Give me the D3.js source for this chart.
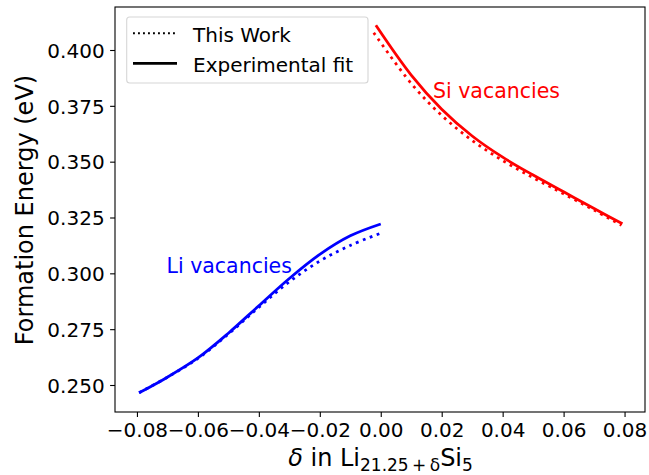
<!DOCTYPE html>
<html>
<head>
<meta charset="utf-8">
<script src="https://cdn.jsdelivr.net/npm/d3@7"></script>
<style>
  html, body { margin: 0; padding: 0; background: #fff; }
  svg { display: block; font-family: "DejaVu Sans", sans-serif; }
</style>
</head>
<body>
<svg id="chart" width="649" height="475"></svg>
<script>
// Li vacancies (delta < 0): formation energy in eV
const liDelta = [-0.0793, -0.07, -0.06, -0.05, -0.04, -0.03, -0.02, -0.01, 0.0];
const liFit   = [0.2465, 0.2535, 0.2621, 0.2732, 0.2855, 0.2977, 0.3085, 0.3168, 0.3221];
const liWork  = [0.2465, 0.2535, 0.2619, 0.2728, 0.2848, 0.2962, 0.3055, 0.3125, 0.3180];

// Si vacancies (delta > 0)
const siDeltaFit  = [-0.0016, 0.01, 0.02, 0.03, 0.04, 0.05, 0.06, 0.07, 0.0793];
const siFit       = [0.4111, 0.3888, 0.3735, 0.3615, 0.3520, 0.3440, 0.3365, 0.3290, 0.3222];
const siDeltaWork = [-0.0023, 0.01, 0.02, 0.03, 0.04, 0.05, 0.06, 0.07, 0.0790];
const siWork      = [0.4077, 0.3850, 0.3707, 0.3595, 0.3505, 0.3428, 0.3356, 0.3283, 0.3215];

const xTicks = [-0.08, -0.06, -0.04, -0.02, 0.0, 0.02, 0.04, 0.06, 0.08];
const yTicks = [0.250, 0.275, 0.300, 0.325, 0.350, 0.375, 0.400];

const legendLabels = ["This Work", "Experimental fit"];

const svg = d3.select("#chart");
const plot = { left: 115, right: 645, top: 7, bottom: 412 };

const x = d3.scaleLinear().domain([-0.0872, 0.0872]).range([plot.left, plot.right + 1.5]);
const y = d3.scaleLinear().domain([0.250, 0.400]).range([385, 50]);

const fmtMinus = f => v => f(v).replace("-", "\u2212");

// axes
const xAxis = d3.axisBottom(x).tickValues(xTicks).tickFormat(fmtMinus(d3.format(".2f")))
  .tickSize(4.9).tickPadding(4.9);
const yAxis = d3.axisLeft(y).tickValues(yTicks).tickFormat(d3.format(".3f"))
  .tickSize(4.9).tickPadding(5.5);

const gx = svg.append("g").attr("transform", `translate(0,${plot.bottom})`).call(xAxis);
const gy = svg.append("g").attr("transform", `translate(${plot.left},0)`).call(yAxis);
[gx, gy].forEach(g => {
  g.select(".domain").remove();
  g.selectAll(".tick line").attr("stroke", "#000").attr("stroke-width", 1.1);
  g.selectAll(".tick text").attr("fill", "#000").style("font-size", "20px")
    .style("font-family", "DejaVu Sans, sans-serif");
});
gx.selectAll(".tick text").attr("dy", null).attr("y", 25.3);
gy.selectAll(".tick text").attr("dy", "0.36em");

// frame
svg.append("rect")
  .attr("x", plot.left).attr("y", plot.top)
  .attr("width", plot.right - plot.left).attr("height", plot.bottom - plot.top)
  .attr("fill", "none").attr("stroke", "#000").attr("stroke-width", 1.1);

// curves
const line = d3.line().curve(d3.curveCatmullRom.alpha(0.5));
function drawCurve(xs, ys, color, dotted) {
  const pts = xs.map((d, i) => [x(d), y(ys[i])]);
  svg.append("path")
    .attr("d", line(pts))
    .attr("fill", "none")
    .attr("stroke", color)
    .attr("stroke-width", 2.78)
    .attr("stroke-dasharray", dotted ? "2.78,4.58" : null);
}
drawCurve(liDelta, liWork, "blue", true);
drawCurve(liDelta, liFit, "blue", false);
drawCurve(siDeltaWork, siWork, "red", true);
drawCurve(siDeltaFit, siFit, "red", false);

// annotations
svg.append("text").attr("x", 433).attr("y", 98).attr("fill", "red")
  .style("font-size", "20.5px").text("Si vacancies");
svg.append("text").attr("x", 166.5).attr("y", 273).attr("fill", "blue")
  .style("font-size", "20.5px").text("Li vacancies");

// axis labels
svg.append("text")
  .attr("transform", "translate(33,210) rotate(-90)")
  .attr("text-anchor", "middle").attr("fill", "#000")
  .style("font-size", "24px").text("Formation Energy (eV)");

const xl = svg.append("text")
  .attr("x", 380.5).attr("y", 466).attr("text-anchor", "middle").attr("fill", "#000")
  .style("font-size", "24px");
xl.append("tspan").style("font-style", "italic").text("\u03b4");
xl.append("tspan").text(" in Li");
xl.append("tspan").attr("dy", 5).style("font-size", "17px").text("21.25\u2009+\u2009\u03b4");
xl.append("tspan").attr("dy", -5).text("Si");
xl.append("tspan").attr("dy", 5).style("font-size", "17px").text("5");

// legend
const lg = svg.append("g");
lg.append("rect")
  .attr("x", 126.7).attr("y", 17).attr("width", 241.3).attr("height", 66).attr("rx", 3)
  .attr("fill", "#fff").attr("fill-opacity", 0.8)
  .attr("stroke", "#d6d6d6").attr("stroke-width", 1.1);
const rowsY = [33.3, 63.3];
legendLabels.forEach((lab, i) => {
  lg.append("line")
    .attr("x1", 133).attr("x2", 177).attr("y1", rowsY[i]).attr("y2", rowsY[i])
    .attr("stroke", "#000").attr("stroke-width", i === 0 ? 1.9 : 2.78)
    .attr("stroke-dasharray", i === 0 ? "1.9,3.1" : null);
  lg.append("text").attr("x", 193).attr("y", rowsY[i] + 8.3).attr("fill", "#000")
    .style("font-size", "20px").text(lab);
});
</script>
</body>
</html>
